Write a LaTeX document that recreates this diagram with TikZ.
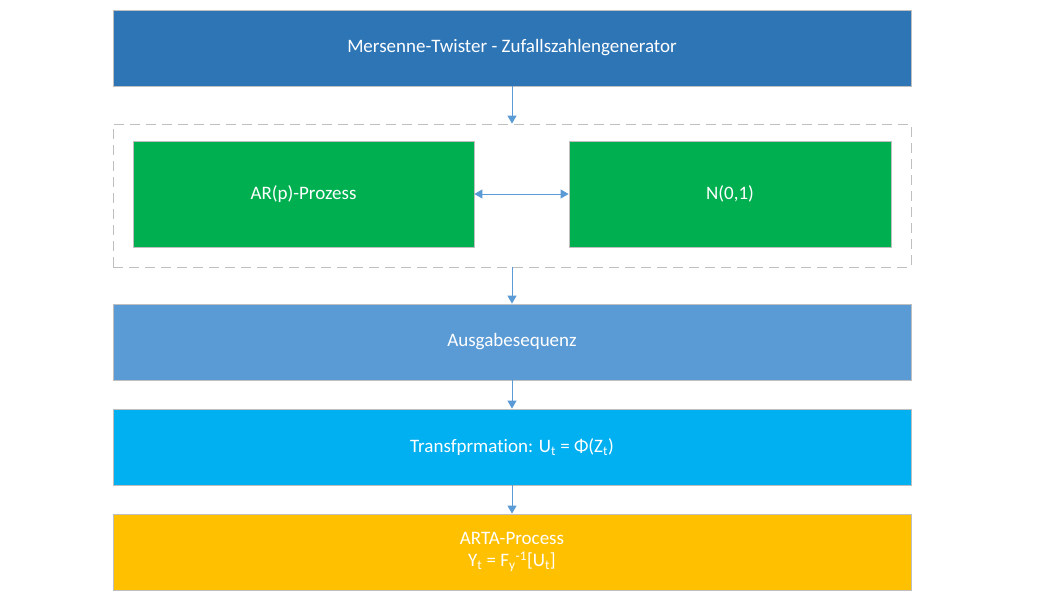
\documentclass[tikz,border=0pt]{standalone}
\usepackage{fontspec}
\setmainfont{Carlito}[Ligatures=NoCommon]
\usepackage{tikz}
\usetikzlibrary{arrows.meta}
\definecolor{Dunkelblau}{RGB}{46,117,182}
\definecolor{Gruen}{RGB}{0,176,80}
\definecolor{Hellblau}{RGB}{91,155,213}
\definecolor{Cyan}{RGB}{0,176,240}
\definecolor{Gelb}{RGB}{255,192,0}
\definecolor{Rand}{RGB}{191,191,191}
\tikzset{
  kasten/.style={draw=Rand, line width=0.8pt, text=white, align=center,
    font=\fontsize{19}{22}\selectfont, minimum width=798pt, minimum height=76pt,
    inner sep=0pt},
  pfeil/.style={draw=Hellblau, line width=1pt, -{Triangle[width=9pt,length=8pt]}},
}
\newcommand{\kastenbei}[4]{\node[kasten, fill=#1] (#2) at (512,#3) {#4};}
\begin{document}
\begin{tikzpicture}[x=1pt,y=-1pt]
\useasboundingbox (0,0) rectangle (1051,605);
\kastenbei{Dunkelblau}{mt}{48}{Mersenne-Twister - Zufallszahlengenerator}
\node[draw=Rand, dashed, dash pattern=on 10pt off 6pt, line width=0.8pt,
  minimum width=798pt, minimum height=143pt, inner sep=0pt] (gruppe) at (512,195.5) {};
\node[kasten, fill=Gruen, minimum width=341pt, minimum height=106pt] (ar) at (303.5,194) {AR(p)-Prozess};
\node[kasten, fill=Gruen, minimum width=322pt, minimum height=106pt] (nv) at (730,194) {N(0,1)};
\kastenbei{Hellblau}{aus}{342}{Ausgabesequenz}
\kastenbei{Cyan}{trans}{447}{Transfprmation: U\textsubscript{t} = Φ(Z\textsubscript{t})}
\kastenbei{Gelb}{arta}{552}{ARTA-Process\\Y\textsubscript{t} = F\textsubscript{y}\textsuperscript{-1}[U\textsubscript{t}]}
\draw[pfeil] (mt) -- (gruppe);
\draw[pfeil, {Triangle[width=9pt,length=8pt]}-{Triangle[width=9pt,length=8pt]}] (ar) -- (nv);
\draw[pfeil] (gruppe) -- (aus);
\draw[pfeil] (aus) -- (trans);
\draw[pfeil] (trans) -- (arta);
\end{tikzpicture}
\end{document}
